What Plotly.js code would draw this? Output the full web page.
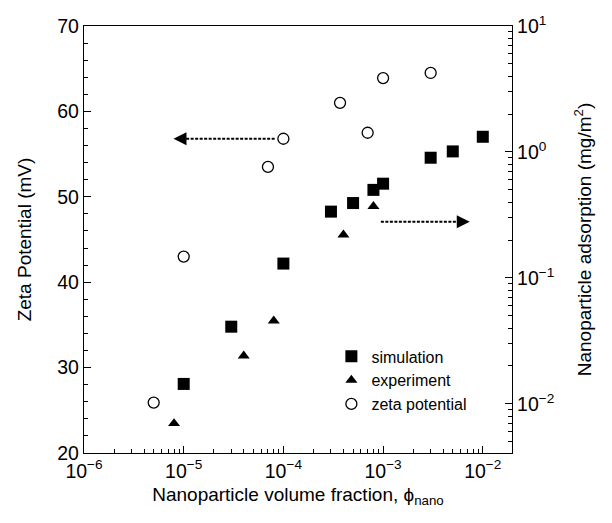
<!DOCTYPE html>
<html>
<head>
<meta charset="utf-8">
<script src="https://cdn.plot.ly/plotly-3.0.1.min.js"></script>
<style>
  html, body { margin: 0; padding: 0; background: #fff; }
  #chart { width: 612px; height: 523px; }
</style>
</head>
<body>
<div id="chart"></div>
<script>
// Simulated nanoparticle adsorption (right axis, mg/m^2)
const simPhi = [1e-5, 3e-5, 1e-4, 3e-4, 5e-4, 8e-4, 1e-3, 3e-3, 5e-3, 1e-2];
const simAds = [0.0144, 0.041, 0.13, 0.336, 0.393, 0.50, 0.56, 0.90, 1.01, 1.32];

// Measured nanoparticle adsorption (right axis, mg/m^2)
const expPhi = [8e-6, 4e-5, 8e-5, 4e-4, 8e-4];
const expAds = [0.007, 0.0241, 0.0456, 0.22, 0.37];

// Zeta potential (left axis, mV)
const zetaPhi = [5e-6, 1e-5, 7e-5, 1e-4, 3.7e-4, 7e-4, 1e-3, 3e-3];
const zetaMV  = [25.9, 43.0, 53.5, 56.8, 61.0, 57.5, 63.9, 64.5];

// Axis tick labels
const xTickVals = [1e-6, 1e-5, 1e-4, 1e-3, 1e-2];
const xTickText = ['10<sup>\u22126</sup>', '10<sup>\u22125</sup>', '10<sup>\u22124</sup>', '10<sup>\u22123</sup>', '10<sup>\u22122</sup>'];
const y2TickVals = [1e-2, 1e-1, 1, 10];
const y2TickText = ['10<sup>\u22122</sup>', '10<sup>\u22121</sup>', '10<sup>0</sup>', '10<sup>1</sup>'];

const FONT = 'Liberation Sans, Arial, sans-serif';
const TICK = 19.5;
const TITLE = 19;

const traces = [
  {
    x: simPhi, y: simAds, yaxis: 'y2', name: 'simulation',
    mode: 'markers', type: 'scatter',
    marker: { symbol: 'square', size: 12, color: '#000' }
  },
  {
    x: expPhi, y: expAds, yaxis: 'y2', name: 'experiment',
    mode: 'markers', type: 'scatter',
    marker: { symbol: 'triangle-up', size: 10.5, color: '#000' }
  },
  {
    x: zetaPhi, y: zetaMV, yaxis: 'y', name: 'zeta potential',
    mode: 'markers', type: 'scatter',
    marker: { symbol: 'circle-open', size: 11, color: '#000', line: { width: 1.3, color: '#000' } }
  },
  // dashed shafts of the two axis-pointer arrows
  {
    x: [8.6e-6, 8.2e-5], y: [56.8, 56.8], yaxis: 'y',
    mode: 'lines', type: 'scatter', showlegend: false, hoverinfo: 'skip',
    line: { color: '#000', width: 2, dash: '3px,1.5px' }
  },
  {
    x: [9.5e-4, 6.4e-3], y: [0.279, 0.279], yaxis: 'y2',
    mode: 'lines', type: 'scatter', showlegend: false, hoverinfo: 'skip',
    line: { color: '#000', width: 2, dash: '3px,1.5px' }
  }
];

const layout = {
  width: 612, height: 523,
  margin: { l: 84, r: 100, t: 26, b: 70 },
  paper_bgcolor: '#fff', plot_bgcolor: '#fff',
  font: { family: FONT, size: TICK, color: '#000' },
  showlegend: true,
  legend: {
    x: 0.578, y: 0.266, xanchor: 'left', yanchor: 'top',
    bgcolor: 'rgba(0,0,0,0)', font: { family: FONT, size: 16, color: '#000' },
    tracegroupgap: 0
  },
  xaxis: {
    type: 'log', range: [-6, -1.707],
    tickmode: 'array', tickvals: xTickVals, ticktext: xTickText,
    ticks: 'inside', ticklen: 7, tickwidth: 1, tickcolor: '#000',
    minor: { ticks: 'inside', ticklen: 4, dtick: 'D1', tickcolor: '#000', showgrid: false },
    showline: true, linecolor: '#000', linewidth: 1.2, mirror: true,
    showgrid: false, zeroline: false,
    tickfont: { family: FONT, size: TICK },
    title: { text: 'Nanoparticle volume fraction, \u03d5<sub>nano</sub>', font: { family: FONT, size: TITLE }, standoff: 7 }
  },
  yaxis: {
    range: [20, 70], dtick: 10,
    ticks: 'inside', ticklen: 7, tickwidth: 1, tickcolor: '#000',
    minor: { ticks: 'inside', ticklen: 4, dtick: 2, tickcolor: '#000', showgrid: false },
    showline: true, linecolor: '#000', linewidth: 1.2,
    showgrid: false, zeroline: false,
    tickfont: { family: FONT, size: TICK },
    title: { text: 'Zeta Potential (mV)', font: { family: FONT, size: TITLE }, standoff: 20 }
  },
  yaxis2: {
    type: 'log', range: [-2.39, 1.0], overlaying: 'y', side: 'right',
    tickmode: 'array', tickvals: y2TickVals, ticktext: y2TickText,
    ticks: 'inside', ticklen: 7, tickwidth: 1, tickcolor: '#000',
    minor: { ticks: 'inside', ticklen: 4, dtick: 'D1', tickcolor: '#000', showgrid: false },
    showline: true, linecolor: '#000', linewidth: 1.2,
    showgrid: false, zeroline: false,
    tickfont: { family: FONT, size: TICK },
    title: { text: 'Nanoparticle adsorption (mg/m<sup>2</sup>)', font: { family: FONT, size: TITLE }, standoff: 24 }
  },
  annotations: [
    // arrowheads: pointing left toward the zeta-potential axis, right toward the adsorption axis
    {
      xref: 'x', yref: 'y', x: Math.log10(7.9e-6), y: 56.8,
      ax: 12, ay: 0, axref: 'pixel', ayref: 'pixel',
      text: '', showarrow: true, arrowhead: 2, arrowsize: 1.3, arrowwidth: 2, arrowcolor: '#000'
    },
    {
      xref: 'x', yref: 'y2', x: Math.log10(7.4e-3), y: Math.log10(0.279),
      ax: -12, ay: 0, axref: 'pixel', ayref: 'pixel',
      text: '', showarrow: true, arrowhead: 2, arrowsize: 1.3, arrowwidth: 2, arrowcolor: '#000'
    }
  ]
};

Plotly.newPlot('chart', traces, layout, { displayModeBar: false, staticPlot: true });
</script>
</body>
</html>
